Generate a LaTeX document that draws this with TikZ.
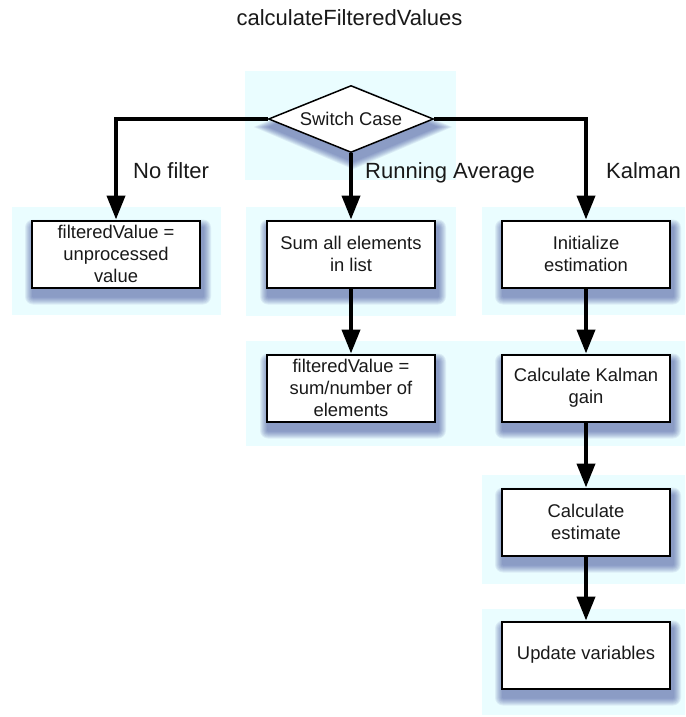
\documentclass[tikz,border=0pt]{standalone}
\usepackage{fontspec}
\setmainfont{Liberation Sans}
\usetikzlibrary{shapes.geometric,arrows.meta,calc}

\definecolor{panel}{RGB}{234,253,255}
\definecolor{shadowblue}{RGB}{55,70,150}
\definecolor{inktext}{RGB}{25,25,25}

\pgfdeclarelayer{panels}
\pgfdeclarelayer{shades}
\pgfsetlayers{panels,shades,main}

% soft blurred shadow under a rectangular node
\newcommand\boxshade[1]{%
  \foreach \s in {1,...,8}{%
    \fill[shadowblue, fill opacity=0.085, rounded corners=\s pt]
      ($(#1.north west)+(2-\s,8-\s)$) rectangle ($(#1.south east)+(2+\s,8+\s)$);
  }}

\begin{document}
\begin{tikzpicture}[x=1pt,y=-1pt,
  stepbox/.style={draw=black, line width=2pt, fill=white,
    minimum width=168pt, minimum height=67pt, inner sep=0pt, align=center,
    text=inktext, font=\fontsize{18.4}{22}\selectfont},
  decision/.style={diamond, aspect=2.46, draw=black, line width=1.5pt, fill=white,
    minimum width=165pt, minimum height=67pt, inner sep=0pt,
    text=inktext, font=\fontsize{18.4}{22}\selectfont},
  flow/.style={line width=4pt, -{Triangle[length=24pt,width=18pt]}},
  branch/.style={anchor=base west, inner sep=0pt, text=inktext,
    font=\fontsize{22}{26}\selectfont},
]
\useasboundingbox (0,0) rectangle (685,717);

% title
\node[anchor=base, inner sep=0pt, text=inktext, font=\fontsize{22}{26}\selectfont]
  (title) at (349.5,26) {calculateFilteredValues};

% decision and process steps
\node[decision] (sw) at (351,119) {Switch Case};
\node[stepbox] (nf)   at (116,254) {filteredValue =\\unprocessed\\value};
\node[stepbox] (sum)  at (351,254) {Sum all elements\\in list};
\node[stepbox] (init) at (586,254) {Initialize\\estimation};
\node[stepbox] (avg)  at (351,388) {filteredValue =\\sum/number of\\elements};
\node[stepbox] (gain) at (586,388) {Calculate Kalman\\gain};
\node[stepbox] (est)  at (586,522) {Calculate\\estimate};
\node[stepbox] (upd)  at (586,655) {Update variables};

% branch labels
\node[branch] (lnf)  at (133,178) {No filter};
\node[branch] (lavg) at (365,178) {Running Average};
\node[branch] (lkal) at (606,178) {Kalman};

% connectors
\draw[flow] (sw.west) -| (nf.north);
\draw[flow] (sw.south) -- (sum.north);
\draw[flow] (sw.east) -| (init.north);
\draw[flow] (sum.south) -- (avg.north);
\draw[flow] (init.south) -- (gain.north);
\draw[flow] (gain.south) -- (est.north);
\draw[flow] (est.south) -- (upd.north);

% white page and light panels behind the groups
\begin{pgfonlayer}{panels}
  \fill[white] (0,0) rectangle (685,717);
  \fill[panel] (245,71) rectangle (456,180);
  \fill[panel] (12,207) rectangle (221,315);
  \fill[panel] (246,207) rectangle (456,316);
  \fill[panel] (482,207) rectangle (685,315);
  \fill[panel] (246,341) rectangle (685,446);
  \fill[panel] (482,475) rectangle (685,584);
  \fill[panel] (482,609) rectangle (685,715);
\end{pgfonlayer}

% shadows
\begin{pgfonlayer}{shades}
  \foreach \n in {nf,sum,init,avg,gain,est,upd}{\boxshade{\n}}
  \foreach \s in {1,...,8}{%
    \fill[shadowblue, fill opacity=0.085]
      ($(sw.west)+(2-2*\s,8)$) -- ($(sw.north)+(2,8-\s)$) --
      ($(sw.east)+(2+2*\s,8)$) -- ($(sw.south)+(2,8+\s)$) -- cycle;
  }
\end{pgfonlayer}
\end{tikzpicture}
\end{document}
